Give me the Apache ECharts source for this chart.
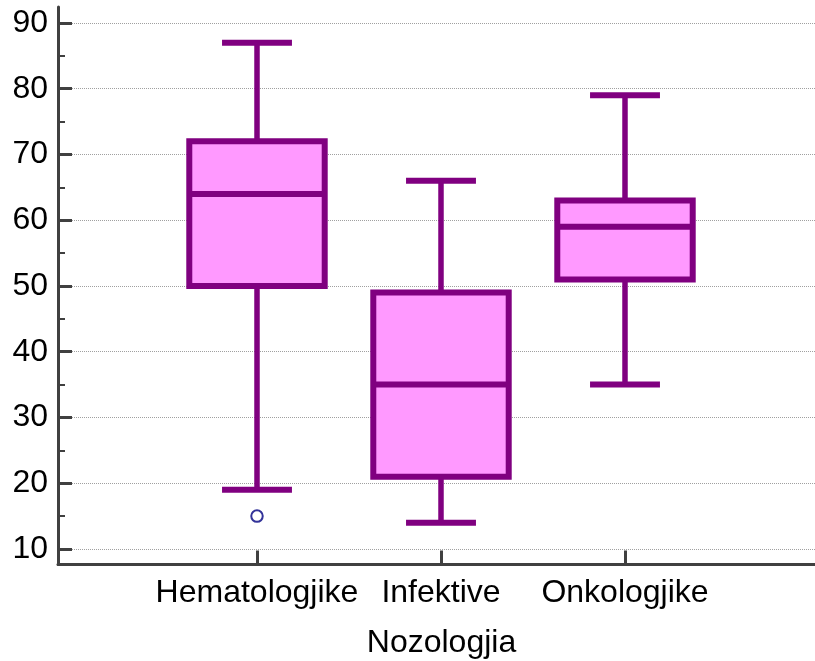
<!DOCTYPE html>
<html>
<head>
<meta charset="utf-8">
<script src="https://cdn.jsdelivr.net/npm/echarts@6/dist/echarts.min.js"></script>
<style>
  html, body { margin: 0; padding: 0; background: #fff; }
  #chart { width: 815px; height: 661px; }
</style>
</head>
<body>
<div id="chart"></div>
<script>
// Box plot summary per nosology group
const categories = ['Hematologjike', 'Infektive', 'Onkologjike'];
const whiskerLow = [19, 14, 35];
const q1 = [50, 21, 51];
const median = [64, 35, 59];
const q3 = [72, 49, 63];
const whiskerHigh = [87, 66, 79];
// Outliers: [category index, value]
const outliers = [[0, 15]];

const yMajorTicks = [10, 20, 30, 40, 50, 60, 70, 80, 90];
const yMinorTicks = [15, 25, 35, 45, 55, 65, 75, 85];

const FONT = 'Liberation Sans, Arial, sans-serif';
const PURPLE = '#800080';
const PINK = '#FF99FF';
const AXIS = '#404040';

const boxData = categories.map((c, i) =>
  [i + 1, whiskerLow[i], q1[i], median[i], q3[i], whiskerHigh[i]]);
const outlierData = outliers.map(o => [o[0] + 1, o[1]]);

function renderBox(params, api) {
  const x = api.value(0);
  const pLow = api.coord([x, api.value(1)]);
  const pQ1 = api.coord([x, api.value(2)]);
  const pMed = api.coord([x, api.value(3)]);
  const pQ3 = api.coord([x, api.value(4)]);
  const pHigh = api.coord([x, api.value(5)]);
  const halfBox = api.size([0.736, 0])[0] / 2;
  const halfCap = api.size([0.38, 0])[0] / 2;
  const cx = pMed[0];
  const whisker = { stroke: PURPLE, lineWidth: 5.5, lineCap: 'butt' };
  const boxLine = { stroke: PURPLE, lineWidth: 6, lineCap: 'butt' };
  return {
    type: 'group',
    children: [
      { type: 'line', shape: { x1: cx, y1: pLow[1], x2: cx, y2: pQ1[1] }, style: whisker },
      { type: 'line', shape: { x1: cx, y1: pQ3[1], x2: cx, y2: pHigh[1] }, style: whisker },
      { type: 'line', shape: { x1: cx - halfCap, y1: pLow[1], x2: cx + halfCap, y2: pLow[1] }, style: boxLine },
      { type: 'line', shape: { x1: cx - halfCap, y1: pHigh[1], x2: cx + halfCap, y2: pHigh[1] }, style: boxLine },
      {
        type: 'rect',
        shape: { x: cx - halfBox, y: pQ3[1], width: halfBox * 2, height: pQ1[1] - pQ3[1] },
        style: { fill: PINK, stroke: PURPLE, lineWidth: 6, lineJoin: 'miter' }
      },
      { type: 'line', shape: { x1: cx - halfBox, y1: pMed[1], x2: cx + halfBox, y2: pMed[1] }, style: boxLine }
    ]
  };
}

const chart = echarts.init(document.getElementById('chart'));
chart.setOption({
  animation: false,
  backgroundColor: '#fff',
  grid: { left: 58, right: 0, top: 7, bottom: 96.5, containLabel: false, outerBoundsMode: 'none' },
  xAxis: {
    type: 'value',
    min: -0.0815,
    max: 4.0326,
    name: 'Nozologjia',
    nameLocation: 'middle',
    nameGap: 63,
    nameTextStyle: { fontFamily: FONT, fontSize: 32, color: '#000', padding: [0, 0, 0, 10] },
    axisLine: { show: true, onZero: false, lineStyle: { color: AXIS, width: 3 } },
    axisTick: { show: true, inside: true, length: 14, lineStyle: { color: AXIS, width: 3 }, customValues: [1, 2, 3] },
    axisLabel: {
      show: true, margin: 13, customValues: [1, 2, 3],
      fontFamily: FONT, fontSize: 32, color: '#000',
      formatter: v => categories[Math.round(v) - 1] || ''
    },
    splitLine: { show: false }
  },
  yAxis: [
    {
      type: 'value',
      min: 7.64,
      max: 92.43,
      axisLine: { show: true, onZero: false, lineStyle: { color: AXIS, width: 3 } },
      axisTick: { show: true, inside: true, length: 14, lineStyle: { color: AXIS, width: 3 }, customValues: yMajorTicks },
      axisLabel: {
        show: true, margin: 10, customValues: yMajorTicks,
        fontFamily: FONT, fontSize: 32, color: '#000'
      },
      splitLine: { show: true, lineStyle: { color: '#a0a0a0', width: 1, type: [1, 1] } }
    },
    {
      type: 'value',
      min: 7.64,
      max: 92.43,
      position: 'left',
      axisLine: { show: false, onZero: false },
      axisTick: { show: true, inside: true, length: 7, lineStyle: { color: AXIS, width: 2 }, customValues: yMinorTicks },
      axisLabel: { show: false },
      splitLine: { show: false }
    }
  ],
  series: [
    {
      type: 'custom',
      renderItem: renderBox,
      data: boxData,
      encode: { x: 0, y: [1, 2, 3, 4, 5] },
      z: 3
    },
    {
      type: 'scatter',
      data: outlierData,
      symbol: 'emptyCircle',
      symbolSize: 11.5,
      itemStyle: { color: '#000080', borderWidth: 1.8 },
      z: 4
    }
  ]
});
</script>
</body>
</html>
